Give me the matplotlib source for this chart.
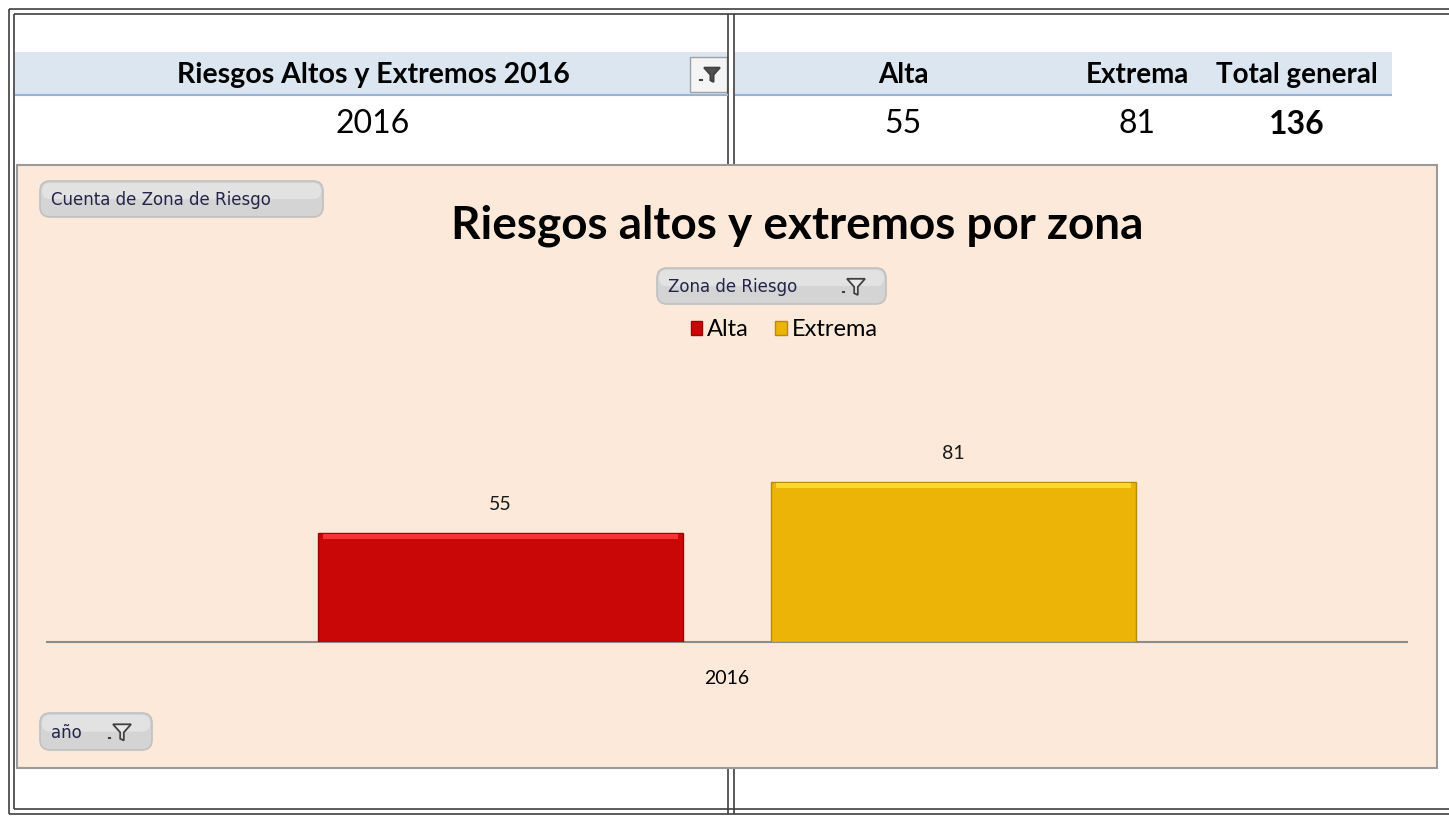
import numpy as np
import matplotlib
matplotlib.use('Agg')
import matplotlib.pyplot as plt
from matplotlib.patches import Rectangle, FancyBboxPatch, Polygon

plt.rcParams['font.family'] = ['Lato', 'DejaVu Sans']

# data
zonas = ['Alta', 'Extrema']
cuentas = [55, 81]
anio = '2016'
colores = ['#CA0707', '#EBB406']
bordes = ['#9A0404', '#B88B02']
brillos = ['#FF3B3B', '#FFE02E']
tabla_titulo = 'Riesgos Altos y Extremos 2016'
titulo = 'Riesgos altos y extremos por zona'

W, H = 1449, 819
fig = plt.figure(figsize=(W / 100, H / 100), dpi=100)

# background axes in pixel coordinates
bg = fig.add_axes([0, 0, 1, 1])
bg.set_xlim(0, W)
bg.set_ylim(H, 0)
bg.axis('off')


def line(x0, y0, x1, y1, c='#404040', lw=1.2):
    bg.plot([x0, x1], [y0, y1], color=c, lw=lw, solid_capstyle='butt')


def funnel(cx, cy, s=1.0, c='#505050', fc='#505050'):
    pts = [(cx - 10 * s, cy - 8 * s), (cx + 10 * s, cy - 8 * s), (cx + 2 * s, cy + 1 * s),
           (cx + 2 * s, cy + 10 * s), (cx - 2 * s, cy + 8 * s), (cx - 2 * s, cy + 1 * s)]
    bg.add_patch(Polygon(pts, closed=True, fc=fc, ec=c, lw=1.3, zorder=6))
    bg.plot([cx - 15 * s, cx - 13 * s], [cy + 7 * s, cy + 7 * s], color=c, lw=1.5, zorder=6)


def boton(x0, y0, x1, y1, txt, fil=False):
    bg.add_patch(FancyBboxPatch((x0, y0), x1 - x0, y1 - y0,
                                boxstyle='round,pad=0,rounding_size=10',
                                fc='#D4D4D4', ec='#C0C0C0', lw=1.2, zorder=5))
    bg.add_patch(FancyBboxPatch((x0 + 2, y0 + 2), x1 - x0 - 4, (y1 - y0) * 0.45,
                                boxstyle='round,pad=0,rounding_size=8',
                                fc='#E2E2E2', ec='none', zorder=5))
    bg.text(x0 + 11, (y0 + y1) / 2 + 1, txt, fontsize=12, color='#24244A',
            family='DejaVu Sans', va='center', ha='left', zorder=7)
    if fil:
        funnel(x1 - 30, (y0 + y1) / 2, 0.9, c='#404040', fc='#E8E8E8')


# outer double border
for off in (9, 14):
    line(off, off, W, off)
    line(off, off, off, H - off + 4)
    line(off, H - off + 4, W, H - off + 4)
for x in (728, 734):
    line(x, 14, x, H - 5)

# header band
bg.add_patch(Rectangle((15, 52), 713, 43, fc='#DCE6F1', ec='none'))
bg.add_patch(Rectangle((735, 52), 657, 43, fc='#DCE6F1', ec='none'))
line(15, 95, 728, 95, c='#95B3D7', lw=1.5)
line(735, 95, 1392, 95, c='#95B3D7', lw=1.5)

bg.text(373, 75, tabla_titulo, fontsize=20.5, fontweight='bold', ha='center', va='center')
bg.add_patch(Rectangle((690, 57), 37, 35, fc='#F4F4F4', ec='#A0A0A0', lw=1))
funnel(712, 74, 0.8, c='#404040')
bg.text(373, 124, anio, fontsize=23, ha='center', va='center')

col_x = [903, 1137]
for x, z, v in zip(col_x, zonas, cuentas):
    bg.text(x, 75, z, fontsize=20, fontweight='bold', ha='center', va='center')
    bg.text(x, 124, str(v), fontsize=23, ha='center', va='center')
bg.text(1297, 75, 'Total general', fontsize=20, fontweight='bold', ha='center', va='center')
bg.text(1297, 124, str(sum(cuentas)), fontsize=23, fontweight='bold', ha='center', va='center')

# chart area
bg.add_patch(Rectangle((17, 165), 1420, 603, fc='#FDE9D9', ec='#9A9A9A', lw=1.5, zorder=3))
bg.text(797, 226, titulo, fontsize=33, fontweight='bold', ha='center', va='center', zorder=4)
boton(40, 181, 323, 217, 'Cuenta de Zona de Riesgo')
boton(657, 268, 886, 304, 'Zona de Riesgo', fil=True)
boton(40, 713, 152, 750, 'año', fil=True)

# plot axes: x 47..1407 px, y 345..642 px
ax = fig.add_axes([47 / W, 1 - 642 / H, 1360 / W, 297 / H])
ax.patch.set_alpha(0)
x = np.arange(len(zonas))
bw = 0.806
bars = ax.bar(x, cuentas, width=bw, color=colores, edgecolor=bordes, lw=1.0,
              label=zonas, zorder=3)
for xi, v, b in zip(x, cuentas, brillos):
    ax.bar(xi, 2.5, bottom=v - 3.2, width=bw * 0.97, color=b, alpha=0.85, lw=0, zorder=4)
    ax.text(xi, v + 10, str(v), ha='center', va='bottom', fontsize=14, color='#1A1A1A')
ax.set_xlim(-1.0, 2.0)
ax.set_ylim(0, 150)
for s in ('top', 'right', 'left'):
    ax.spines[s].set_visible(False)
ax.spines['bottom'].set_color('#8C8C8C')
ax.spines['bottom'].set_linewidth(1.5)
ax.set_yticks([])
ax.set_xticks([x.mean()])
ax.set_xticklabels([anio], fontsize=14)
ax.tick_params(axis='x', length=0, pad=20)

leg = ax.legend(handles=list(bars), labels=zonas, loc='center',
                bbox_to_anchor=(784 / W, 1 - 330 / H), bbox_transform=fig.transFigure,
                ncol=2, frameon=False, fontsize=17, handlelength=0.5, handleheight=0.5,
                handletextpad=0.2, columnspacing=1.1)

fig.savefig('out.png', dpi=100)
